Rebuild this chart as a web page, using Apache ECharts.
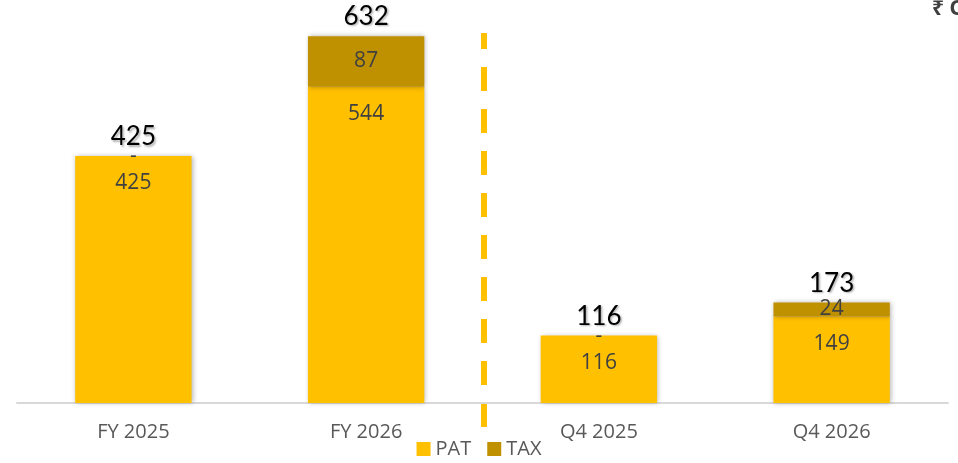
<!DOCTYPE html>
<html>
<head>
<meta charset="utf-8">
<script src="https://cdn.jsdelivr.net/npm/echarts@6/dist/echarts.min.js"></script>
<style>
  html, body { margin: 0; padding: 0; background: #fff; }
  #main { width: 958px; height: 463px; }
</style>
</head>
<body>
<div id="main"></div>
<script>
// 数据
var categories = ['FY 2025', 'FY 2026', 'Q4 2025', 'Q4 2026'];
var pat = [425, 544, 116, 149];
var tax = [0, 87, 0, 24];
var totals = [425, 632, 116, 173];

var myChart = echarts.init(document.getElementById('main'));

var option = {
    animation: false,
    grid: {
        left: 17,
        right: 10,
        top: 10,
        bottom: 60
    },
    legend: {
        data: ['PAT', 'TAX'],
        bottom: -1,
        left: 'center',
        itemWidth: 14,
        itemHeight: 14,
        itemGap: 16,
        icon: 'rect',
        textStyle: {
            color: '#595959',
            fontSize: 20,
            fontFamily: 'Open Sans'
        }
    },
    xAxis: {
        type: 'category',
        data: categories,
        axisTick: { show: false },
        axisLine: {
            lineStyle: { color: '#d9d9d9', width: 2 }
        },
        axisLabel: {
            color: '#595959',
            fontSize: 20,
            fontFamily: 'Open Sans',
            margin: 19
        }
    },
    yAxis: {
        type: 'value',
        min: 0,
        max: 676,
        show: false,
        splitLine: { show: false }
    },
    graphic: [
        {
            // 中间的分隔虚线
            type: 'line',
            shape: { x1: 484, y1: 33, x2: 484, y2: 427 },
            style: {
                stroke: '#FFC000',
                lineWidth: 6,
                lineDash: [24, 18],
                lineDashOffset: 8
            },
            silent: true
        },
        {
            type: 'text',
            left: 932,
            top: -1,
            style: {
                text: '₹ Cr',
                fill: '#404040',
                font: 'bold 21px "Noto Sans"'
            }
        }
    ],
    series: [
        {
            name: 'Total',
            type: 'bar',
            data: totals,
            barWidth: '50%',
            barGap: '-100%',
            z: 1,
            itemStyle: { color: 'rgba(0,0,0,0)' },
            label: {
                show: true,
                position: 'top',
                distance: 6,
                color: '#000',
                fontSize: 26,
                fontFamily: 'Lato',
                fontWeight: 'normal',
                textShadowColor: 'rgba(0,0,0,0.3)',
                textShadowBlur: 2,
                textShadowOffsetX: 1.5,
                textShadowOffsetY: 1.5
            }
        },
        {
            name: 'PAT',
            type: 'bar',
            stack: 'all',
            data: pat,
            barWidth: '50%',
            z: 3,
            itemStyle: {
                color: '#FFC000',
                shadowColor: 'rgba(0,0,0,0.3)',
                shadowBlur: 5,
                shadowOffsetX: 1
            },
            label: {
                show: true,
                position: 'insideTop',
                distance: 17,
                color: '#404040',
                fontSize: 21,
                fontFamily: 'Open Sans'
            }
        },
        {
            name: 'TAX',
            type: 'bar',
            stack: 'all',
            data: tax,
            barWidth: '50%',
            z: 3,
            itemStyle: {
                color: '#BF9000',
                shadowColor: 'rgba(0,0,0,0.3)',
                shadowBlur: 5,
                shadowOffsetX: 1
            },
            label: {
                show: true,
                position: 'inside',
                color: '#404040',
                fontSize: 21,
                fontFamily: 'Open Sans',
                formatter: function (p) {
                    return p.value === 0 ? '-' : p.value;
                }
            }
        }
    ]
};

myChart.setOption(option);
window.addEventListener("resize", function () {
    myChart.resize();
});
</script>
</body>
</html>
